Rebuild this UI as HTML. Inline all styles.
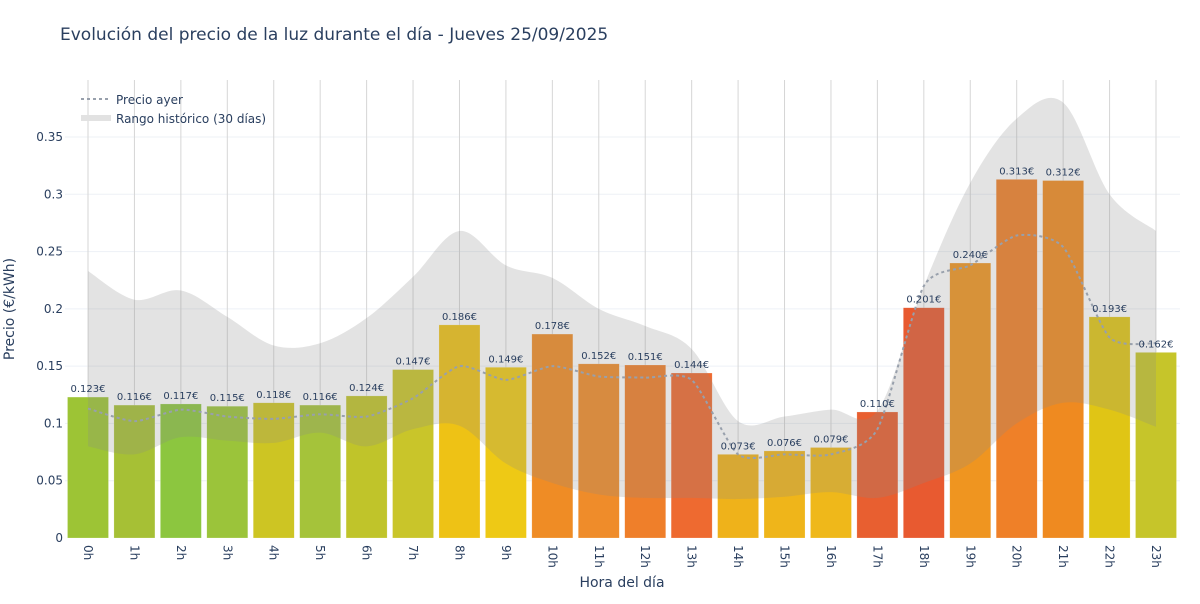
<!DOCTYPE html>
<html><head><meta charset="utf-8"><style>
body{margin:0;background:#fff;font-family:"DejaVu Sans",sans-serif}
</style></head><body>
<svg id="s" width="1200" height="600" xmlns="http://www.w3.org/2000/svg" font-family="DejaVu Sans, sans-serif"></svg>
<script>
const S=document.getElementById('s');
const X=h=>88+h*46.435, Y=v=>538-v*1145.7;
const vals=[.123,.116,.117,.115,.118,.116,.124,.147,.186,.149,.178,.152,.151,.144,.073,.076,.079,.110,.201,.240,.313,.312,.193,.162];
const cols=['#9dc435','#a6c035','#8cc63f','#9bc43a','#cdc523','#a5c33a','#c0c42a','#c9c52a','#eec215','#eec915','#ef8c25','#ef8c2a','#ef7f2a','#ee6a30','#efb21a','#efb51a','#efb81a','#e85f30','#e85a30','#ef9520','#ef8028','#ef8a20','#e0c515','#c6c52a'];
const up=[.233,.208,.216,.193,.168,.170,.192,.228,.268,.238,.227,.200,.185,.165,.102,.106,.112,.111,.220,.310,.366,.380,.300,.268];
const lo=[.080,.073,.088,.085,.083,.092,.080,.095,.098,.065,.048,.038,.035,.035,.034,.036,.040,.035,.048,.065,.100,.118,.112,.097];
const ay=[.113,.102,.112,.106,.104,.108,.106,.122,.150,.138,.150,.141,.140,.138,.073,.073,.073,.095,.220,.238,.264,.254,.175,.170];
function seg(pts,k){let p='';for(let i=0;i<pts.length-1;i++){const p0=pts[Math.max(i-1,0)],p1=pts[i],p2=pts[i+1],p3=pts[Math.min(i+2,pts.length-1)];
const c1=[p1[0]+(p2[0]-p0[0])/k,p1[1]+(p2[1]-p0[1])/k],c2=[p2[0]-(p3[0]-p1[0])/k,p2[1]-(p3[1]-p1[1])/k];
p+=` C${c1[0]},${c1[1]} ${c2[0]},${c2[1]} ${p2[0]},${p2[1]}`;}return p;}
let h='';
for(let i=1;i<=7;i++){const v=i*0.05;h+=`<line x1="65" x2="1180" y1="${Y(v)}" y2="${Y(v)}" stroke="#edf1f6"/>`;}
for(let i=0;i<24;i++)h+=`<line x1="${X(i)}" x2="${X(i)}" y1="80" y2="538" stroke="#d6d6d6"/>`;
for(let i=0;i<24;i++){const x=X(i)-20.5,y=Y(vals[i]);h+=`<rect x="${x}" y="${y}" width="41" height="${538-y}" fill="${cols[i]}" stroke="rgba(255,255,255,0.4)" stroke-width="0.5"/>`;}
const pu=up.map((v,i)=>[X(i),Y(v)]), pl=lo.map((v,i)=>[X(i),Y(v)]).reverse();
h+=`<path d="M${pu[0]} ${seg(pu,6)} L${pl[0]} ${seg(pl,6)} Z" fill="rgba(140,140,140,0.24)"/>`;
const pa=ay.map((v,i)=>[X(i),Y(v)]);
h+=`<path d="M${pa[0]} ${seg(pa,9)}" fill="none" stroke="#98a0ac" stroke-width="2" stroke-dasharray="3,3"/>`;
for(let i=0;i<24;i++){h+=`<text x="${X(i)}" y="${Y(vals[i])-5}" font-size="10" fill="#2a3f5f" text-anchor="middle">${vals[i].toFixed(3)}€</text>`;
h+=`<text transform="translate(${X(i)-4},545) rotate(90)" font-size="12" fill="#2a3f5f">${i}h</text>`;}
['0','0.05','0.1','0.15','0.2','0.25','0.3','0.35'].forEach((t,i)=>{h+=`<text x="63" y="${Y(i*0.05)+4}" font-size="12" fill="#2a3f5f" text-anchor="end">${t}</text>`;});
h+=`<text x="60" y="40" font-size="17" fill="#2a3f5f">Evolución del precio de la luz durante el día - Jueves 25/09/2025</text>`;
h+=`<text x="622" y="587" font-size="14" fill="#2a3f5f" text-anchor="middle">Hora del día</text>`;
h+=`<text transform="translate(14,309) rotate(-90)" font-size="14" fill="#2a3f5f" text-anchor="middle">Precio (€/kWh)</text>`;
h+=`<line x1="81" x2="110" y1="99" y2="99" stroke="#98a0ac" stroke-width="2" stroke-dasharray="3,3"/>`;
h+=`<text x="116" y="104" font-size="12" fill="#2a3f5f">Precio ayer</text>`;
h+=`<rect x="81" y="115" width="30" height="6" fill="#e2e2e2"/>`;
h+=`<text x="116" y="123" font-size="12" fill="#2a3f5f">Rango histórico (30 días)</text>`;
S.innerHTML=h;
</script>
</body></html>
